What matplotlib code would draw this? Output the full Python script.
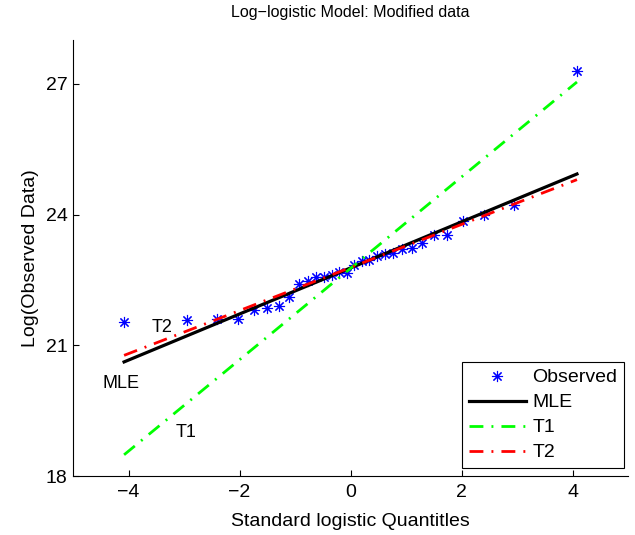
import matplotlib
matplotlib.use('Agg')
import matplotlib.pyplot as plt

plt.rcParams['font.family'] = ['Liberation Sans', 'DejaVu Sans']

quantiles = [-4.08, -2.94, -2.40, -2.02, -1.74, -1.50, -1.29, -1.10, -0.93, -0.77,
             -0.62, -0.48, -0.34, -0.20, -0.07, 0.07, 0.20, 0.34, 0.48, 0.62,
             0.77, 0.93, 1.10, 1.29, 1.50, 1.74, 2.02, 2.40, 2.94, 4.08]
observed = [21.53, 21.59, 21.61, 21.61, 21.81, 21.85, 21.91, 22.10, 22.40, 22.48,
            22.56, 22.57, 22.61, 22.69, 22.67, 22.85, 22.94, 22.95, 23.05, 23.09,
            23.11, 23.20, 23.24, 23.34, 23.54, 23.54, 23.85, 24.00, 24.21, 27.30]

# fitted lines (endpoints)
fit_x = [-4.08, 4.08]
mle_y = [20.62, 24.93]
t1_y = [18.49, 27.04]
t2_y = [20.77, 24.80]

# label positions next to lines
labels = ['T2', 'MLE', 'T1']
label_x = [-3.39, -4.14, -2.97]
label_y = [21.41, 20.13, 19.01]

fig = plt.figure(figsize=(6.35, 5.35), dpi=100)
ax = fig.add_axes([0.115, 0.110, 0.874, 0.815])

dashdot = (0, (5.0, 2.9, 0.7, 2.9))
ax.plot(quantiles, observed, linestyle='none', marker=(8, 2, 0), markersize=8,
        markeredgewidth=0.8, color='blue', label='Observed')
ax.plot(fit_x, mle_y, color='black', linewidth=2.3, label='MLE')
ax.plot(fit_x, t1_y, color='#00ff00', linewidth=2.0, linestyle=dashdot, label='T1')
ax.plot(fit_x, t2_y, color='red', linewidth=2.0, linestyle=dashdot, label='T2')

for lab, lx, ly in zip(labels, label_x, label_y):
    ax.text(lx, ly, lab, ha='center', va='center', fontsize=13)

ax.set_xlim(-5, 5)
ax.set_ylim(18, 28)
ax.set_xticks([-4, -2, 0, 2, 4])
ax.set_yticks([18, 21, 24, 27])
ax.spines['top'].set_visible(False)
ax.spines['right'].set_visible(False)
ax.tick_params(direction='in', length=4, labelsize=14)
ax.tick_params(axis='x', pad=6)
ax.tick_params(axis='y', pad=4)

ax.set_title('Log\u2212logistic Model: Modified data', fontsize=11.5, pad=17)
ax.set_xlabel('Standard logistic Quantitles', fontsize=14, labelpad=8)
ax.set_ylabel('Log(Observed Data)', fontsize=14, labelpad=5)

leg = ax.legend(loc='lower right', bbox_to_anchor=(0.993, 0.018), borderaxespad=0,
                fontsize=14, handlelength=2.9, fancybox=False, numpoints=1,
                edgecolor='black', framealpha=1,
                labelspacing=0.38, handletextpad=0.35, borderpad=0.35)
leg.get_frame().set_linewidth(0.8)

fig.savefig('out.png', dpi=100)
